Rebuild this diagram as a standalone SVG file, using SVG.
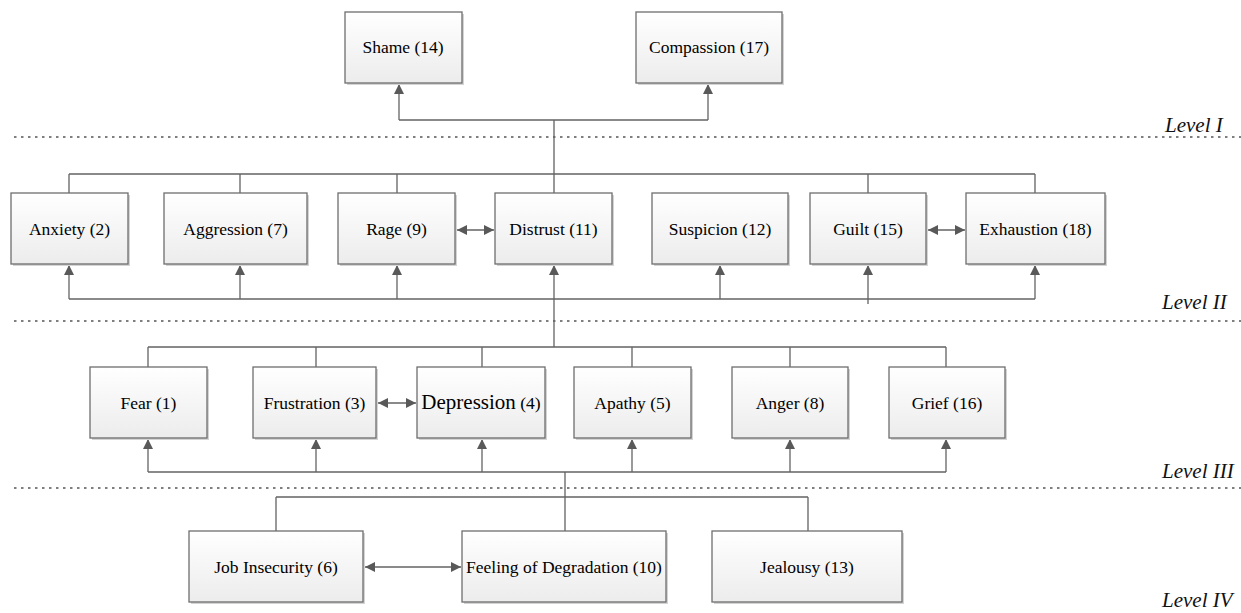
<svg xmlns="http://www.w3.org/2000/svg" width="1241" height="613" viewBox="0 0 1241 613" font-family="'Liberation Serif', 'Times New Roman', serif">
<defs>
<linearGradient id="g" x1="0" y1="0" x2="0" y2="1">
<stop offset="0" stop-color="#ffffff"/>
<stop offset="1" stop-color="#ececec"/>
</linearGradient>
<marker id="ah" viewBox="0 0 10 10" refX="10" refY="5" markerWidth="10" markerHeight="10" markerUnits="userSpaceOnUse" orient="auto-start-reverse">
<path d="M0,0 L10,5 L0,10 Z" fill="#595959"/>
</marker>
</defs>
<style>
.box{fill:url(#g);stroke:#6e6e6e;stroke-width:1.3}
.sh{fill:#d4d4d4}
.t{font-family:'Liberation Serif','Times New Roman',serif;font-size:17.5px;fill:#000;text-anchor:middle}
.big{font-size:21px}
.lv{font-family:'Liberation Serif','Times New Roman',serif;font-size:21px;font-style:italic;fill:#111}
.c{fill:none;stroke:#636363;stroke-width:1.3}
.a{marker-end:url(#ah)}
.d{marker-start:url(#ah);marker-end:url(#ah)}
.dot{stroke:#555;stroke-width:1.6;stroke-dasharray:2.5 4.5;fill:none}
</style>
<rect width="1241" height="613" fill="#fff"/>
<g id="levels">
<line class="dot" x1="14" y1="137" x2="1241" y2="137"/>
<line class="dot" x1="14" y1="321" x2="1241" y2="321"/>
<line class="dot" x1="14" y1="488" x2="1241" y2="488"/>
<text class="lv" x="1165" y="132">Level I</text>
<text class="lv" x="1162" y="309">Level II</text>
<text class="lv" x="1162" y="478">Level III</text>
<text class="lv" x="1162" y="607">Level IV</text>
</g>
<g id="connectors">
<path class="c" d="M554,193 V120 M399,120 H708"/>
<path class="c a" d="M399,120 V84"/>
<path class="c a" d="M708,120 V84"/>
<path class="c" d="M69,174 H1035 M69,174 V193 M240,174 V193 M397,174 V193 M868,174 V193 M1035,174 V193"/>
<path class="c" d="M69,299 H1035"/>
<path class="c a" d="M69,299 V265"/>
<path class="c a" d="M240,299 V265"/>
<path class="c a" d="M397,299 V265"/>
<path class="c a" d="M554,347 V265"/>
<path class="c a" d="M720,299 V265"/>
<path class="c a" d="M868,304 V265"/>
<path class="c a" d="M1035,299 V265"/>
<path class="c d" d="M457,230 H494"/>
<path class="c d" d="M928,230 H965"/>
<path class="c" d="M148,347 H946 M148,347 V367 M316,347 V367 M482,347 V367 M632,347 V367 M790,347 V367 M946,347 V367"/>
<path class="c" d="M148,472 H946"/>
<path class="c a" d="M148,472 V439"/>
<path class="c a" d="M316,472 V439"/>
<path class="c a" d="M482,472 V439"/>
<path class="c a" d="M632,472 V439"/>
<path class="c a" d="M790,472 V439"/>
<path class="c a" d="M946,472 V439"/>
<path class="c d" d="M378,403 H416"/>
<path class="c" d="M565,472 V531 M276,497 H808 M276,497 V531 M808,497 V531"/>
<path class="c d" d="M365,567 H461"/>
</g>
<g id="shame"><rect class="sh" x="347" y="14" width="117" height="71"/><rect class="box" x="345" y="12" width="117" height="71"/><text class="t" x="403" y="53">Shame (14)</text></g>
<g id="compassion"><rect class="sh" x="638" y="14" width="146" height="71"/><rect class="box" x="636" y="12" width="146" height="71"/><text class="t" x="709" y="53">Compassion (17)</text></g>
<g id="anxiety"><rect class="sh" x="13" y="195" width="117" height="71"/><rect class="box" x="11" y="193" width="117" height="71"/><text class="t" x="69.5" y="235">Anxiety (2)</text></g>
<g id="aggression"><rect class="sh" x="166" y="195" width="143" height="71"/><rect class="box" x="164" y="193" width="143" height="71"/><text class="t" x="235.5" y="235">Aggression (7)</text></g>
<g id="rage"><rect class="sh" x="340" y="195" width="117" height="71"/><rect class="box" x="338" y="193" width="117" height="71"/><text class="t" x="396.5" y="235">Rage (9)</text></g>
<g id="distrust"><rect class="sh" x="497" y="195" width="117" height="71"/><rect class="box" x="495" y="193" width="117" height="71"/><text class="t" x="553.5" y="235">Distrust (11)</text></g>
<g id="suspicion"><rect class="sh" x="654" y="195" width="136" height="71"/><rect class="box" x="652" y="193" width="136" height="71"/><text class="t" x="720" y="235">Suspicion (12)</text></g>
<g id="guilt"><rect class="sh" x="812" y="195" width="116" height="71"/><rect class="box" x="810" y="193" width="116" height="71"/><text class="t" x="868" y="235">Guilt (15)</text></g>
<g id="exhaustion"><rect class="sh" x="968" y="195" width="139" height="71"/><rect class="box" x="966" y="193" width="139" height="71"/><text class="t" x="1035.5" y="235">Exhaustion (18)</text></g>
<g id="fear"><rect class="sh" x="92" y="369" width="117" height="71"/><rect class="box" x="90" y="367" width="117" height="71"/><text class="t" x="148.5" y="409">Fear (1)</text></g>
<g id="frustration"><rect class="sh" x="255" y="369" width="123" height="71"/><rect class="box" x="253" y="367" width="123" height="71"/><text class="t" x="314.5" y="409">Frustration (3)</text></g>
<g id="depression"><rect class="sh" x="419" y="369" width="128" height="71"/><rect class="box" x="417" y="367" width="128" height="71"/><text class="t" x="481" y="409"><tspan class="big">Depression</tspan> (4)</text></g>
<g id="apathy"><rect class="sh" x="576" y="369" width="117" height="71"/><rect class="box" x="574" y="367" width="117" height="71"/><text class="t" x="632.5" y="409">Apathy (5)</text></g>
<g id="anger"><rect class="sh" x="734" y="369" width="116" height="71"/><rect class="box" x="732" y="367" width="116" height="71"/><text class="t" x="790" y="409">Anger (8)</text></g>
<g id="grief"><rect class="sh" x="891" y="369" width="116" height="71"/><rect class="box" x="889" y="367" width="116" height="71"/><text class="t" x="947" y="409">Grief (16)</text></g>
<g id="job-insecurity"><rect class="sh" x="191" y="533" width="174" height="71"/><rect class="box" x="189" y="531" width="174" height="71"/><text class="t" x="276" y="573">Job Insecurity (6)</text></g>
<g id="feeling-of-degradation"><rect class="sh" x="464" y="533" width="204" height="71"/><rect class="box" x="462" y="531" width="204" height="71"/><text class="t" x="564" y="573">Feeling of Degradation (10)</text></g>
<g id="jealousy"><rect class="sh" x="714" y="533" width="190" height="71"/><rect class="box" x="712" y="531" width="190" height="71"/><text class="t" x="807" y="573">Jealousy (13)</text></g>
</svg>
